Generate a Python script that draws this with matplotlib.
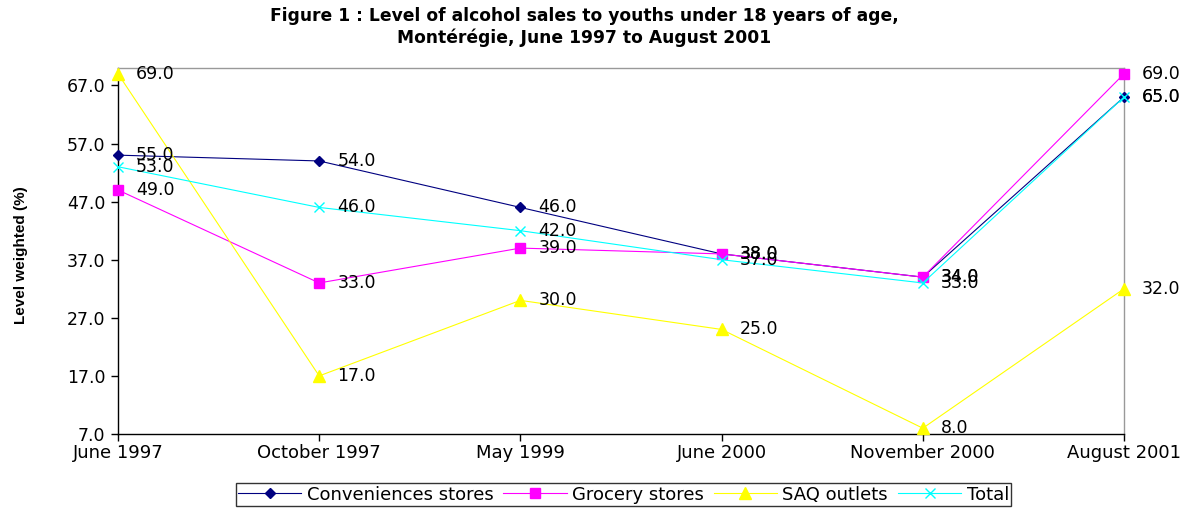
import matplotlib
matplotlib.use("Agg")
import matplotlib.pyplot as plt
from matplotlib.lines import Line2D

categories = ["June 1997", "October 1997", "May 1999", "June 2000", "November 2000", "August 2001"]
convenience = [55, 54, 46, 38, 34, 65]
grocery = [49, 33, 39, 38, 34, 69]
saq = [69, 17, 30, 25, 8, 32]
total = [53, 46, 42, 37, 33, 65]
yticks = [7, 17, 27, 37, 47, 57, 67]

plt.rcParams['font.family'] = ['DejaVu Sans']

fig = plt.figure(figsize=(11.93, 5.08), dpi=100)
ax = fig.add_axes([118/1193, 1-434/508, (1124-118)/1193, (434-68)/508])

x = list(range(len(categories)))
series = [
    ("Conveniences stores", convenience, "#000080", "D", 5.5, "#000080"),
    ("Grocery stores", grocery, "#FF00FF", "s", 7.5, "#FF00FF"),
    ("SAQ outlets", saq, "#FFFF00", "^", 8.5, "#FFFF00"),
    ("Total", total, "#00FFFF", "x", 7, "#00FFFF"),
]
handles = []
for name, vals, col, mk, ms, mc in series:
    ax.plot(x, vals, color=col, lw=0.8, marker=mk, markersize=ms,
            markerfacecolor=mc, markeredgecolor=mc, clip_on=False, zorder=3)
    handles.append(Line2D([], [], color=col, lw=0.8, marker=mk, markersize=ms,
                          markerfacecolor=mc, markeredgecolor=mc))
    for xi, v in zip(x, vals):
        ax.annotate(f"{v:.1f}", (xi, v), xytext=(13, 0), textcoords="offset points",
                    ha="left", va="center", fontsize=12.5, color="black", zorder=4,
                    annotation_clip=False)

ax.set_xlim(0, len(categories) - 1)
ax.set_ylim(7, 70)
ax.set_yticks(yticks)
ax.set_yticklabels([f"{t:.1f}" for t in yticks], fontsize=12.5)
ax.set_xticks(x)
ax.set_xticklabels(categories, fontsize=13)
ax.tick_params(axis='both', direction='out', length=5, width=1, color='black')
ax.tick_params(axis='x', pad=2)
ax.tick_params(axis='y', pad=4)

for s in ("top", "right"):
    ax.spines[s].set_color("#999999")
    ax.spines[s].set_linewidth(1)
for s in ("left", "bottom"):
    ax.spines[s].set_color("black")
    ax.spines[s].set_linewidth(1)

fig.text(21/1193, 1-255/508, "Level weighted (%)", rotation=90, ha="center", va="center",
         fontsize=11, fontweight="bold", family="Liberation Sans")

fig.text(584/1193, 1-27/508, "Figure 1 : Level of alcohol sales to youths under 18 years of age,\nMontérégie, June 1997 to August 2001",
         ha="center", va="center", fontsize=12.3, fontweight="bold", linespacing=1.25)

leg = fig.legend(handles, [s[0] for s in series], loc="center",
                 bbox_to_anchor=(623.5/1193, 1-494.5/508), ncol=4, frameon=True, fontsize=13,
                 handlelength=3.5, handletextpad=0.3, columnspacing=0.55,
                 borderpad=0.12, borderaxespad=0, fancybox=False, edgecolor="black")
leg.get_frame().set_linewidth(1)

fig.savefig("out.png", dpi=100)
